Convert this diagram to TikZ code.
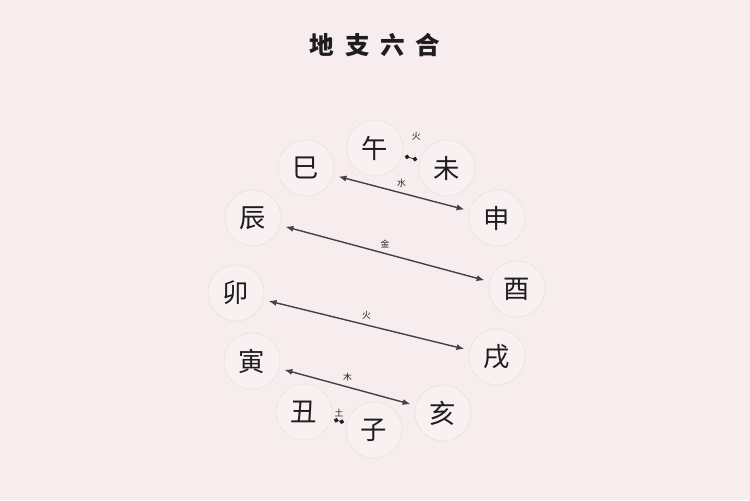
\documentclass[tikz,border=0pt]{standalone}
\usepackage{fontspec}
\newfontfamily\cjk{Noto Sans CJK SC}
\usetikzlibrary{arrows.meta}
\definecolor{paper}{HTML}{F8EDEE}
\definecolor{ring}{HTML}{ECE1E2}
\definecolor{ink}{HTML}{1E1C1C}
\definecolor{wire}{HTML}{454142}
\tikzset{
  branch/.style={
    circle,
    draw=#1,
    fill=white!20!paper,
    minimum size=1.12cm,
    inner sep=0pt,
    text=ink,
    font=\cjk\fontsize{15}{15}\selectfont
  },
  branch/.default={ring},
%
  element/.style={
    text=ink,
    inner sep=1pt,
    font=\cjk\fontsize{5}{5}\selectfont
  },
%
  pair/.style={
    draw=#1,
    {Latex[length=4.5pt,width=3.5pt]}-{Latex[length=4.5pt,width=3.5pt]},
    line width=0.8pt,
    shorten <=3pt,
    shorten >=3pt
  },
  pair/.default={wire},
%
  tinypair/.style={
    draw=#1,
    {Circle[length=2.6pt]}-{Circle[length=2.6pt]},
    line width=0.4pt,
    shorten <=1.5pt,
    shorten >=1.5pt
  },
  tinypair/.default={ink},
}

\begin{document}
\begin{tikzpicture}[x=0.02cm, y=-0.02cm]
\fill[paper] (0,0) rectangle (750,500);
\useasboundingbox (0,0) rectangle (750,500);

\node[text=ink, font=\cjk\bfseries\fontsize{14}{14}\selectfont] at (375,45) (title) {地\hspace{6pt}支\hspace{6pt}六\hspace{6pt}合};

\node[branch] at (375,148) (wu) {午};
\node[branch] at (447,168) (wei) {未};
\node[branch] at (306,168) (si) {巳};
\node[branch] at (497,218) (shen) {申};
\node[branch] at (253,218) (chen) {辰};
\node[branch] at (517,289) (you) {酉};
\node[branch] at (236,293) (mao) {卯};
\node[branch] at (497,357) (xu) {戌};
\node[branch] at (252,361) (yin) {寅};
\node[branch] at (443,413) (hai) {亥};
\node[branch] at (304,412) (chou) {丑};
\node[branch] at (374,430) (zi) {子};

\draw[tinypair] (wu) -- node[element, above=9pt, xshift=3pt] (huo1) {火} (wei);
\draw[pair] (si) -- node[element, above=2pt] (shui) {水} (shen);
\draw[pair] (chen) -- node[element, above=2pt] (jin) {金} (you);
\draw[pair] (mao) -- node[element, above=2pt] (huo2) {火} (xu);
\draw[pair] (yin) -- node[element, above=2pt] (mu) {木} (hai);
\draw[tinypair] (chou) -- node[element, above=1pt] (tu) {土} (zi);

\end{tikzpicture}
\end{document}
